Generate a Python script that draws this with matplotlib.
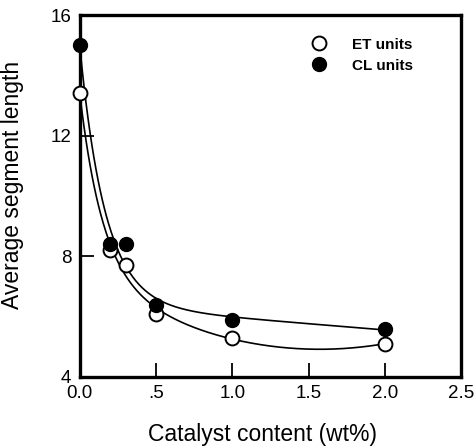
import numpy as np
import matplotlib
matplotlib.use("Agg")
import matplotlib.pyplot as plt

plt.rcParams['font.family'] = ['Liberation Sans', 'DejaVu Sans']

# data
catalyst = [0.0, 0.2, 0.3, 0.5, 1.0, 2.0]
et_units = [13.4, 8.2, 7.7, 6.1, 5.3, 5.1]
cl_units = [15.0, 8.4, 8.4, 6.4, 5.9, 5.6]
x_ticks = [0.0, 0.5, 1.0, 1.5, 2.0, 2.5]
x_tick_labels = ['0.0', '.5', '1.0', '1.5', '2.0', '2.5']
y_ticks = [4, 8, 12, 16]


def fit_curve(x, y, xs, quad=False):
    """Least squares fit of B + A*exp(-x/t) + C*x (+ D*x^2), grid over t."""
    x = np.asarray(x)
    y = np.asarray(y)
    best = None
    for t in np.linspace(0.03, 0.6, 300):
        cols = [np.ones_like(x), np.exp(-x / t), x]
        if quad:
            cols.append(x ** 2)
        M = np.column_stack(cols)
        coef, *_ = np.linalg.lstsq(M, y, rcond=None)
        err = np.sum((M @ coef - y) ** 2)
        if best is None or err < best[0]:
            best = (err, t, coef)
    _, t, coef = best
    cols = [np.ones_like(xs), np.exp(-xs / t), xs]
    if quad:
        cols.append(xs ** 2)
    return np.column_stack(cols) @ coef


fig = plt.figure(figsize=(4.75, 4.48), dpi=100)
ax = fig.add_axes([0.168, 0.1585, 0.803, 0.808])

xs = np.linspace(0, 2.0, 300)
ax.plot(xs, fit_curve(catalyst, et_units, xs, quad=True), color='black', lw=1.2)
ax.plot(xs, fit_curve(catalyst, cl_units, xs), color='black', lw=1.2)

ax.plot(catalyst, et_units, 'o', mfc='white', mec='black', mew=1.4, ms=10,
        label='ET units', clip_on=False, zorder=3)
ax.plot(catalyst, cl_units, 'o', mfc='black', mec='black', ms=10,
        label='CL units', clip_on=False, zorder=3)

ax.set_xlim(0, 2.5)
ax.set_ylim(4, 16)
ax.set_xticks(x_ticks)
ax.set_xticklabels(x_tick_labels)
ax.set_yticks(y_ticks)
ax.tick_params(direction='in', length=10, width=1.3, labelsize=13.5, pad=6)

for sp in ax.spines.values():
    sp.set_linewidth(2.4)

ax.set_xlabel('Catalyst content (wt%)', fontsize=16.5)
ax.set_ylabel('Average segment length', fontsize=16.5)
ax.xaxis.set_label_coords(0.478, -0.128)
ax.yaxis.set_label_coords(-0.145, 0.53)

leg = ax.legend(loc='upper right', bbox_to_anchor=(0.91, 0.975), frameon=False,
                prop={'weight': 'bold', 'size': 11}, handletextpad=1.5,
                labelspacing=0.45, handlelength=1.4)

fig.savefig('out.png', dpi=100)
